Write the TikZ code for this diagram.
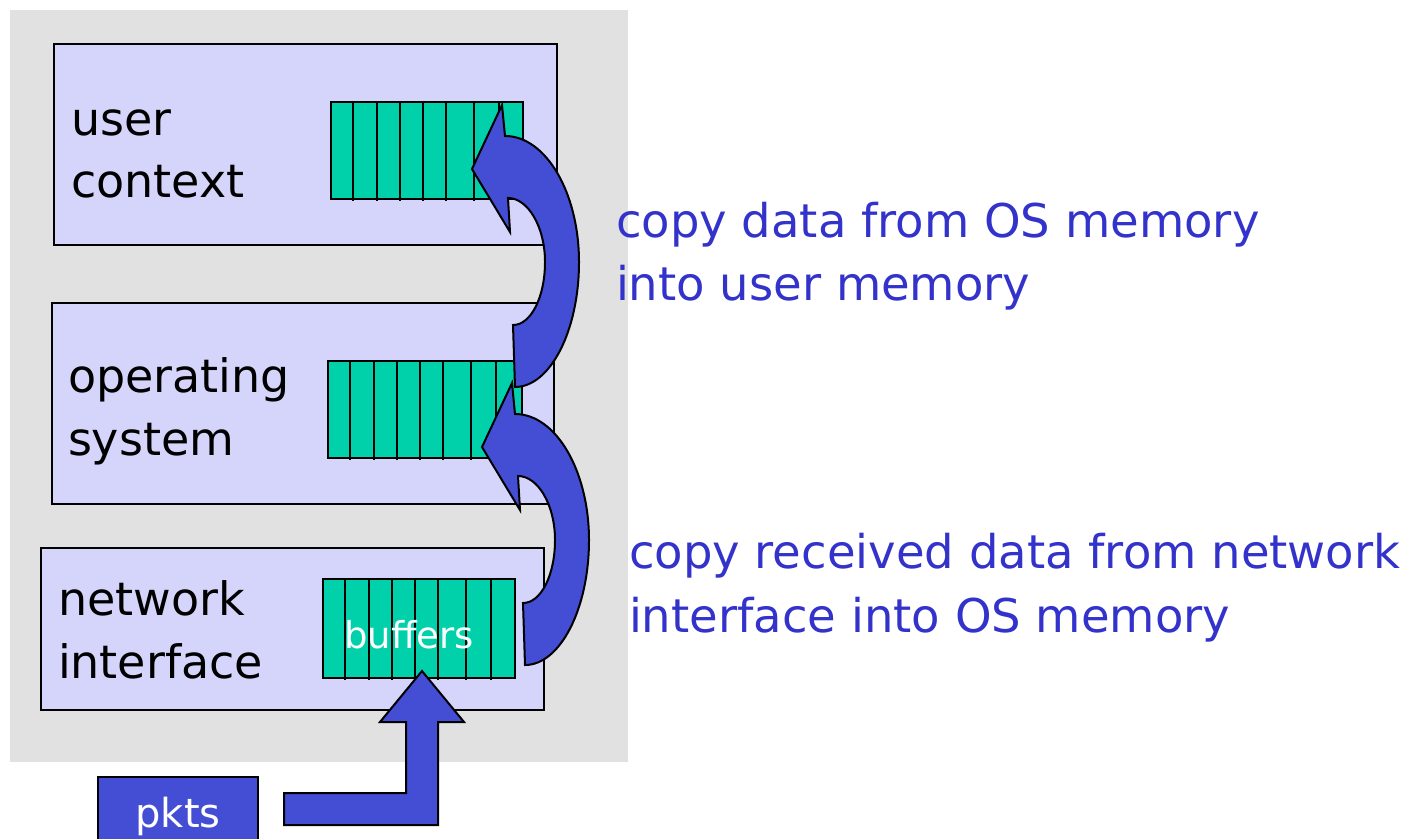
\documentclass[tikz,border=0pt]{standalone}
\usepackage{fontspec}
\setmainfont{DejaVu Sans}
\definecolor{bggray}{RGB}{225,225,225}
\definecolor{lav}{RGB}{213,213,251}
\definecolor{bufgreen}{RGB}{0,209,170}
\definecolor{arrblue}{RGB}{68,78,212}
\definecolor{txtblue}{RGB}{51,51,204}
\begin{document}
\begin{tikzpicture}[x=1pt,y=-1pt,line width=2pt,
  layer/.style={draw=black,fill=lav,inner sep=0pt,anchor=north west},
  bufbox/.style={draw=black,fill=bufgreen,inner sep=0pt,anchor=north west},
  lbl/.style={anchor=base west,inner sep=0pt,font=\fontsize{46}{62.5}\selectfont},
  note/.style={anchor=base west,inner sep=0pt,text=txtblue,font=\fontsize{46.5}{63.5}\selectfont},
  blockarrow/.style={draw=black,fill=arrblue,line width=2pt,line join=miter}]
\useasboundingbox (0,0) rectangle (1415,838);
\fill[bggray] (10,10) rectangle (628,762);

% the three layers
\node[layer,minimum width=503,minimum height=201] (user) at (53,43) {};
\node[layer,minimum width=502,minimum height=201] (os) at (51,302) {};
\node[layer,minimum width=503,minimum height=162] (nic) at (40,547) {};

\node[lbl] (usertxt1) at (70,135) {user};
\node[lbl] (usertxt2) at (70,197) {context};
\node[lbl] (ostxt1) at (67,392) {operating};
\node[lbl] (ostxt2) at (67,455) {system};
\node[lbl] (nictxt1) at (57,615) {network};
\node[lbl] (nictxt2) at (57,678) {interface};

% buffer rows
\node[bufbox,minimum width=192,minimum height=97] (ubuf) at (330,101) {};
\node[bufbox,minimum width=194,minimum height=97] (obuf) at (327,360) {};
\node[bufbox,minimum width=192,minimum height=99] (nbuf) at (322,578) {};
\foreach \b/\h in {ubuf/97,obuf/97,nbuf/99}
  \foreach \o in {23,47,70,93,116,144,169}
    \draw[line width=2pt] ([xshift=\o pt,yshift=-2pt]\b.north west) -- ++(0,\h+1);
\node[anchor=base,inner sep=0pt,text=white,font=\fontsize{37}{40}\selectfont] (buftxt) at (409,648) {buffers};

% curved copy arrows (NIC -> OS, OS -> user)
\foreach \dx/\dy/\nm in {10/278/lower,0/0/upper}{
  \begin{scope}[shift={(\dx,\dy)}]
    \draw[blockarrow] (515,387)
      .. controls (550,387) and (579,331) .. (579,262)
      .. controls (579,193) and (546,136) .. (505,136)
      -- (502,105) -- (472,169) -- (510,232) -- (508,198)
      .. controls (528,198) and (545,227) .. (545,262)
      .. controls (545,297) and (531,325) .. (513,325)
      -- cycle;
    \coordinate (\nm tip) at (472,169);
  \end{scope}
}

\node[note] (note1a) at (615,237) {copy data from OS memory};
\node[note] (note1b) at (615,300) {into user memory};
\node[note] (note2a) at (628,568) {copy received data from network};
\node[note] (note2b) at (628,632) {interface into OS memory};

% incoming packets
\node[anchor=base,fill=arrblue,draw=black,inner xsep=0pt,inner ysep=20pt,
      minimum width=160,text height=30pt,text depth=12pt,text=white,
      font=\fontsize{40}{44}\selectfont] (pkts) at (178,827) {pkts};
\draw[blockarrow] (284,793) -- (406,793) -- (406,722) -- (380,722)
  -- (422,671) -- (464,722) -- (438,722) -- (438,825)
  -- (284,825) -- cycle;
\end{tikzpicture}
\end{document}
